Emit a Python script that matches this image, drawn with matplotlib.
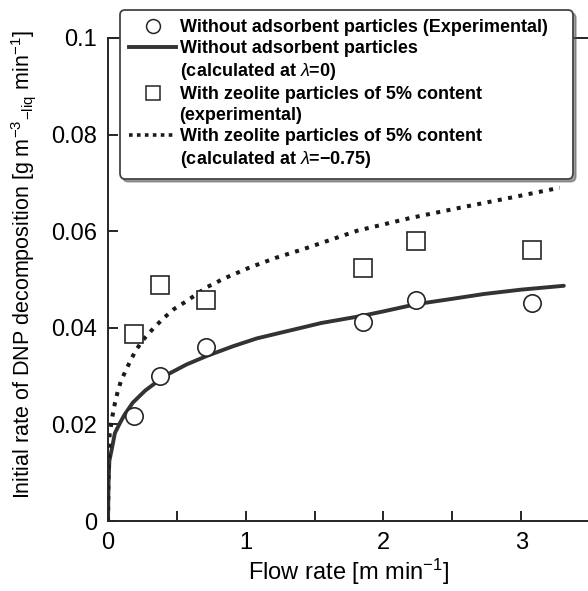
import numpy as np
import matplotlib
matplotlib.use('Agg')
import matplotlib.pyplot as plt
from matplotlib.lines import Line2D
from matplotlib.ticker import MultipleLocator

plt.rcParams['font.family'] = ['Liberation Sans', 'DejaVu Sans']
plt.rcParams['mathtext.fontset'] = 'custom'
plt.rcParams['mathtext.rm'] = 'Liberation Sans'
plt.rcParams['mathtext.it'] = 'Liberation Sans:italic'
plt.rcParams['mathtext.bf'] = 'Liberation Sans:bold'

# experimental points
flow_exp = [0.19, 0.38, 0.71, 1.85, 2.24, 3.08]
rate_no_ads = [0.0218, 0.0301, 0.0361, 0.0412, 0.0458, 0.0451]
rate_zeolite = [0.0388, 0.0489, 0.0458, 0.0523, 0.0580, 0.0561]

# calculated curves
flow_calc0 = [0.0, 0.004, 0.01, 0.027, 0.05, 0.087, 0.12, 0.18, 0.27, 0.378, 0.45,
              0.57, 0.72, 0.91, 1.08, 1.3, 1.55, 1.85, 2.0, 2.24, 2.5, 2.73, 3.0, 3.31]
rate_calc0 = [0.0, 0.008, 0.0125, 0.0148, 0.0182, 0.0203, 0.0220, 0.0245, 0.0270, 0.0293,
              0.0306, 0.0324, 0.0342, 0.0362, 0.0378, 0.0393, 0.0410, 0.0425, 0.0434,
              0.0449, 0.0460, 0.0470, 0.0479, 0.0487]
flow_calc75 = [0.0, 0.004, 0.012, 0.034, 0.051, 0.068, 0.092, 0.126, 0.165, 0.203, 0.264,
               0.33, 0.40, 0.48, 0.564, 0.717, 0.85, 1.03, 1.22, 1.42, 1.81, 2.19, 2.58,
               2.97, 3.28]
rate_calc75 = [0.0, 0.011, 0.018, 0.022, 0.0245, 0.0265, 0.0288, 0.031, 0.0333, 0.0354,
               0.0378, 0.0399, 0.0419, 0.0439, 0.0454, 0.0484, 0.0503, 0.0525, 0.0545,
               0.0563, 0.0601, 0.0627, 0.0650, 0.0672, 0.0690]

fig = plt.figure(figsize=(5.88, 5.91), dpi=100)
ax = fig.add_axes([108 / 588, 70 / 591, 482 / 588, 483 / 591])

ink = '#262626'
ax.plot(flow_calc0, rate_calc0, color='#333333', lw=2.8, solid_capstyle='round',
        solid_joinstyle='round')
ax.plot(flow_calc75, rate_calc75, color='#1a1a1a', lw=2.9,
        linestyle=(0, (1, 1.6)), dash_capstyle='butt')
ax.plot(flow_exp, rate_no_ads, 'o', ms=12.5, mfc='white', mec=ink, mew=1.2)
ax.plot(flow_exp, rate_zeolite, 's', ms=12.5, mfc='white', mec=ink, mew=1.2)

ax.set_xlim(0, 3.5)
ax.set_ylim(0, 0.1)
ax.set_xticks([0, 1, 2, 3])
ax.set_xticklabels(['0', '1', '2', '3'])
ax.xaxis.set_minor_locator(MultipleLocator(0.5))
ax.set_yticks([0, 0.02, 0.04, 0.06, 0.08, 0.1])
ax.set_yticklabels(['0', '0.02', '0.04', '0.06', '0.08', '0.1'])
ax.tick_params(which='both', direction='in', length=7, width=1.4, color=ink,
               labelsize=17, pad=8, top=False, right=False)
for s in ['left', 'bottom', 'top']:
    ax.spines[s].set_linewidth(1.4)
    ax.spines[s].set_color(ink)
ax.spines['right'].set_visible(False)

ax.set_xlabel(r'Flow rate [m min$^{\mathregular{-1}}$]', fontsize=17, labelpad=2)
ax.set_ylabel(r'Initial rate of DNP decomposition [g m$^{\mathregular{-3}}$$_{\mathregular{-liq}}$ min$^{\mathregular{-1}}$]',
              fontsize=15.5)
ax.yaxis.set_label_coords(-0.145, 0.53)

blank = Line2D([], [], linestyle='none')
handles = [
    Line2D([], [], marker='o', linestyle='none', ms=10, mfc='white', mec=ink, mew=1.1),
    Line2D([], [], color='#333333', lw=2.8),
    blank,
    Line2D([], [], marker='s', linestyle='none', ms=10, mfc='white', mec=ink, mew=1.1),
    blank,
    Line2D([], [], color='#1a1a1a', lw=2.6, linestyle=(0, (1, 1.2))),
    blank,
]
labels = [
    'Without adsorbent particles (Experimental)',
    'Without adsorbent particles',
    '(calculated at $\\mathit{\\lambda}$=0)',
    'With zeolite particles of 5% content',
    '(experimental)',
    'With zeolite particles of 5% content',
    '(calculated at $\\mathit{\\lambda}$=\u22120.75)',
]
leg = ax.legend(handles, labels, loc='upper left',
                bbox_to_anchor=(120 / 588, 0, 453 / 588, 1 - 10 / 591), mode='expand',
                bbox_transform=fig.transFigure, prop={'weight': 'bold', 'size': 13},
                handlelength=2.6, handletextpad=0.2, labelspacing=0.22,
                borderpad=0.5, frameon=True, fancybox=True, shadow=True,
                borderaxespad=0)
frame = leg.get_frame()
frame.set_edgecolor('#444444')
frame.set_linewidth(1.3)
frame.set_boxstyle('round', pad=0, rounding_size=0.3)
frame.set_alpha(1)

fig.savefig('out.png', dpi=100)
